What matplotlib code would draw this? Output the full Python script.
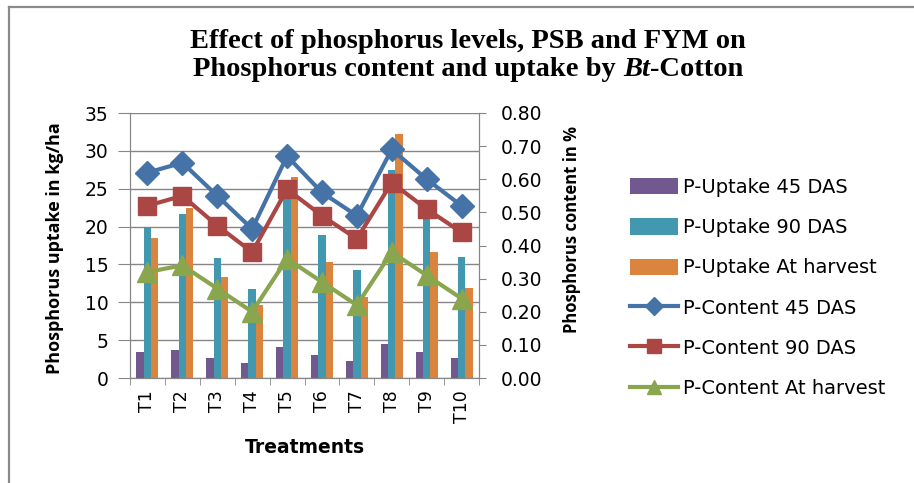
import matplotlib
matplotlib.use("Agg")
import matplotlib.pyplot as plt
from matplotlib.lines import Line2D
import numpy as np

# data
treatments = ['T1', 'T2', 'T3', 'T4', 'T5', 'T6', 'T7', 'T8', 'T9', 'T10']
uptake_45 = [3.4, 3.7, 2.7, 2.0, 4.1, 3.0, 2.3, 4.5, 3.4, 2.6]
uptake_90 = [20.0, 21.6, 15.8, 11.7, 23.8, 18.9, 14.3, 27.5, 21.2, 16.0]
uptake_harvest = [18.5, 22.5, 13.4, 9.6, 26.6, 15.3, 10.7, 32.2, 16.7, 11.9]
content_45 = [0.62, 0.65, 0.55, 0.45, 0.67, 0.56, 0.49, 0.69, 0.60, 0.52]
content_90 = [0.52, 0.55, 0.46, 0.38, 0.57, 0.49, 0.42, 0.59, 0.51, 0.44]
content_harvest = [0.32, 0.34, 0.27, 0.20, 0.36, 0.29, 0.22, 0.38, 0.31, 0.24]

W, H = 914, 483
fig = plt.figure(figsize=(W / 100, H / 100), dpi=100)
fig.patch.set_facecolor('white')

# outer frame (only left and top visible in the reference)
fig.add_artist(Line2D([9 / W, 9 / W], [0, 1 - 7 / H], transform=fig.transFigure,
                      color='#8a8a8a', lw=1.6))
fig.add_artist(Line2D([9 / W, 1], [1 - 7 / H, 1 - 7 / H], transform=fig.transFigure,
                      color='#8a8a8a', lw=1.6))

ax = fig.add_axes([130 / W, 1 - 378 / H, 349 / W, 265 / H])
ax2 = ax.twinx()

x = np.arange(len(treatments))
bw = 0.21
ax.bar(x - bw, uptake_45, bw, color='#71588F', label='P-Uptake 45 DAS', zorder=2)
ax.bar(x, uptake_90, bw, color='#4198AF', label='P-Uptake 90 DAS', zorder=2)
ax.bar(x + bw, uptake_harvest, bw, color='#DB843D', label='P-Uptake At harvest', zorder=2)

ax2.plot(x, content_45, color='#4572A7', lw=3, marker='D', ms=12, label='P-Content 45 DAS')
ax2.plot(x, content_90, color='#AA4643', lw=3, marker='s', ms=13, label='P-Content 90 DAS')
ax2.plot(x, content_harvest, color='#89A54E', lw=3, marker='^', ms=14, label='P-Content At harvest')

ax.set_xlim(-0.5, len(treatments) - 0.5)
ax.set_ylim(0, 35)
ax.set_yticks(range(0, 36, 5))
ax2.set_ylim(0, 0.8)
ax2.set_yticks(np.arange(0, 0.81, 0.1))
ax2.set_yticklabels(['%.2f' % v for v in np.arange(0, 0.81, 0.1)])

ax.set_xticks(x)
ax.set_xticklabels(treatments, rotation=90)
ax.set_xticks(np.arange(-0.5, len(treatments), 1), minor=True)
ax.tick_params(axis='x', which='major', length=0, pad=9, labelsize=12.5)
ax.tick_params(axis='x', which='minor', length=5, color='#868686')
ax.yaxis.grid(True, color='#868686', lw=1)
ax.set_axisbelow(True)

font = 'DejaVu Sans'
ax.tick_params(axis='y', length=8.5, color='#868686', labelsize=13.5, pad=7)
ax2.tick_params(axis='y', length=5, color='#868686', labelsize=13.5, pad=11)
for a in (ax, ax2):
    for s in a.spines.values():
        s.set_color('#868686')
    for lab in a.get_yticklabels() + a.get_xticklabels():
        lab.set_fontfamily(font)
ax2.spines['top'].set_visible(False)
ax.spines['top'].set_visible(False)

ax.set_ylabel('Phosphorus uptake in kg/ha', fontsize=13, fontweight='bold', family='Open Sans')
ax2.set_ylabel('Phosphorus content in %', fontsize=12, fontweight='bold', family='Open Sans')
ax.set_xlabel('Treatments', fontsize=13.5, fontweight='bold', family=font)
ax.yaxis.set_label_coords(-0.19, 0.49)
ax2.yaxis.set_label_coords(1.24, 0.56)
ax.xaxis.set_label_coords(0.501, -0.226)

# title, with italic "Bt"
tkw = dict(family='Liberation Serif', fontweight='bold', fontsize=20.5, va='center')
fig.text(468 / W, 1 - 42 / H, 'Effect of phosphorus levels, PSB and FYM on', ha='center', **tkw)
fig.canvas.draw()
r = fig.canvas.get_renderer()
parts = [('Phosphorus content and uptake by ', 'normal'), ('Bt', 'italic'), ('-Cotton', 'normal')]
texts = [fig.text(0, 1 - 70 / H, p, style=s, ha='left', **tkw) for p, s in parts]
widths = [t.get_window_extent(r).width for t in texts]
start = 468 - sum(widths) / 2
for t, w in zip(texts, widths):
    t.set_x(start / W)
    start += w

h1, l1 = ax.get_legend_handles_labels()
h2, l2 = ax2.get_legend_handles_labels()
fig.legend(h1 + h2, l1 + l2, loc='upper left', bbox_to_anchor=(630 / W, 1 - 178 / H),
           frameon=False, prop={'family': font, 'size': 14}, handlelength=2.45,
           handleheight=0.9, labelspacing=1.09, handletextpad=0.3, markerscale=0.75,
           borderpad=0, borderaxespad=0)

fig.savefig('out.png', dpi=100)
